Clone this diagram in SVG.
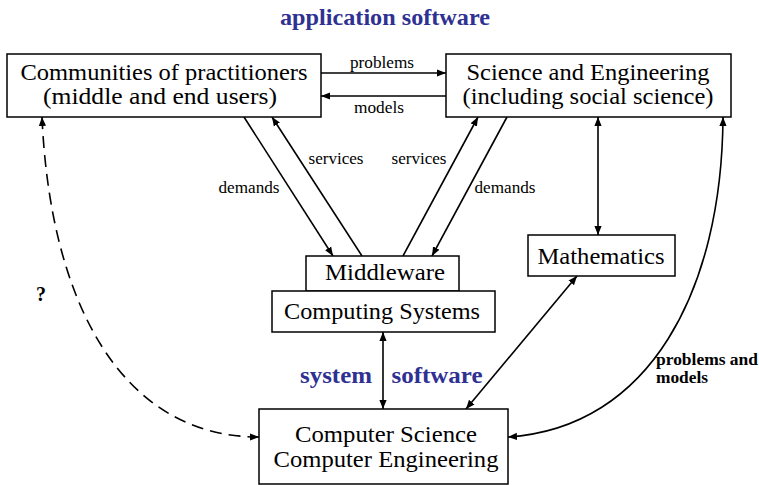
<svg xmlns="http://www.w3.org/2000/svg" width="759" height="485" viewBox="0 0 759 485">
<style>
.box{fill:#fff;stroke:#000;stroke-width:1.5}
text{font-family:"Liberation Serif","DejaVu Serif","Times New Roman",serif}
.bt{font-size:23px;text-anchor:middle;fill:#000}
.lbl{font-size:16px;text-anchor:middle;fill:#000}
.blue{font-size:23px;font-weight:bold;fill:#2e3192;text-anchor:middle}
.bold{font-size:16px;font-weight:bold;fill:#000}
.ln{fill:none;stroke:#000;stroke-width:1.6}
</style>
<defs>
<marker id="ah" viewBox="0 0 10 10" refX="10" refY="5" markerWidth="9" markerHeight="9" markerUnits="userSpaceOnUse" orient="auto-start-reverse">
<path d="M0,1 L10,5 L0,9 z" fill="#000"/>
</marker>
</defs>
<text class="blue" x="385" y="25" textLength="210" lengthAdjust="spacingAndGlyphs">application software</text>
<g id="connectors">
<line class="ln" x1="321" y1="73" x2="446" y2="73" marker-end="url(#ah)"/>
<line class="ln" x1="446" y1="96" x2="321" y2="96" marker-end="url(#ah)"/>
<line class="ln" x1="244" y1="117" x2="333" y2="256" marker-end="url(#ah)"/>
<line class="ln" x1="362" y1="256" x2="272" y2="117" marker-end="url(#ah)"/>
<line class="ln" x1="403" y1="256" x2="478" y2="117" marker-end="url(#ah)"/>
<line class="ln" x1="507" y1="117" x2="432" y2="256" marker-end="url(#ah)"/>
<line class="ln" x1="598" y1="117" x2="598" y2="235" marker-start="url(#ah)" marker-end="url(#ah)"/>
<line class="ln" x1="577" y1="276" x2="466" y2="409" marker-start="url(#ah)" marker-end="url(#ah)"/>
<line class="ln" x1="383" y1="332" x2="383" y2="409" marker-start="url(#ah)" marker-end="url(#ah)"/>
<path class="ln" d="M42,117 C50,300 120,437 259,437" stroke-dasharray="12,7" marker-start="url(#ah)" marker-end="url(#ah)"/>
<path class="ln" d="M723,117 C722,290 650,428 508,437" marker-start="url(#ah)" marker-end="url(#ah)"/>
<text class="lbl" x="382" y="68" textLength="64" lengthAdjust="spacingAndGlyphs">problems</text>
<text class="lbl" x="379" y="113" textLength="50" lengthAdjust="spacingAndGlyphs">models</text>
<text class="lbl" x="249" y="193" textLength="61" lengthAdjust="spacingAndGlyphs">demands</text>
<text class="lbl" x="336" y="164" textLength="55" lengthAdjust="spacingAndGlyphs">services</text>
<text class="lbl" x="419" y="164" textLength="55" lengthAdjust="spacingAndGlyphs">services</text>
<text class="lbl" x="505" y="193" textLength="61" lengthAdjust="spacingAndGlyphs">demands</text>
<text class="blue" x="336" y="383" textLength="72" lengthAdjust="spacingAndGlyphs">system</text>
<text class="blue" x="437" y="383" textLength="91" lengthAdjust="spacingAndGlyphs">software</text>
<text class="bold" x="656" y="365" textLength="102" lengthAdjust="spacingAndGlyphs">problems and</text>
<text class="bold" x="656" y="383" textLength="52" lengthAdjust="spacingAndGlyphs">models</text>
<text class="bold" x="41" y="301" style="font-size:20px" text-anchor="middle">?</text>
</g>
<g id="communities">
<rect class="box" x="7" y="54" width="314" height="63"/>
<text class="bt" x="164" y="80" textLength="287" lengthAdjust="spacingAndGlyphs">Communities of practitioners</text>
<text class="bt" x="160" y="104" textLength="234" lengthAdjust="spacingAndGlyphs">(middle and end users)</text>
</g>
<g id="science">
<rect class="box" x="446" y="54" width="285" height="63"/>
<text class="bt" x="588" y="80" textLength="243" lengthAdjust="spacingAndGlyphs">Science and Engineering</text>
<text class="bt" x="588" y="104" textLength="251" lengthAdjust="spacingAndGlyphs">(including social science)</text>
</g>
<g id="middleware">
<rect class="box" x="306" y="256" width="153" height="35"/>
<text class="bt" x="385" y="280" textLength="120" lengthAdjust="spacingAndGlyphs">Middleware</text>
</g>
<g id="computing">
<rect class="box" x="272" y="291" width="223" height="41"/>
<text class="bt" x="382" y="319" textLength="196" lengthAdjust="spacingAndGlyphs">Computing Systems</text>
</g>
<g id="mathematics">
<rect class="box" x="528" y="235" width="147" height="41"/>
<text class="bt" x="601" y="264" textLength="127" lengthAdjust="spacingAndGlyphs">Mathematics</text>
</g>
<g id="cs">
<rect class="box" x="259" y="409" width="249" height="75"/>
<text class="bt" x="386" y="442" textLength="182" lengthAdjust="spacingAndGlyphs">Computer Science</text>
<text class="bt" x="386" y="467" textLength="225" lengthAdjust="spacingAndGlyphs">Computer Engineering</text>
</g>
</svg>
